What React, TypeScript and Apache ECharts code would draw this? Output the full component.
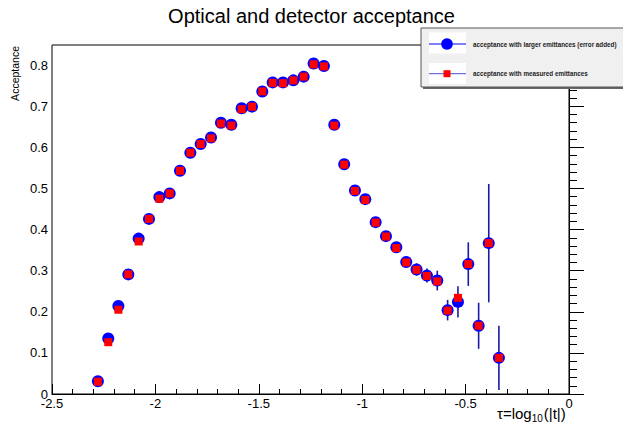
import React, { useEffect, useRef } from "react";
import * as echarts from "echarts";

const titleText = "Optical and detector acceptance";
const yTitle = "Acceptance";
const legendLabels = [
  "acceptance with larger emittances (error added)",
  "acceptance with measured emittances",
];

const tau = [
  -2.278, -2.228, -2.179, -2.131, -2.081, -2.031, -1.981, -1.931, -1.881, -1.831,
  -1.781, -1.731, -1.683, -1.633, -1.583, -1.533, -1.483, -1.433, -1.383, -1.333,
  -1.283, -1.235, -1.185, -1.135, -1.087, -1.035, -0.985, -0.935, -0.885, -0.835,
  -0.787, -0.737, -0.687, -0.637, -0.587, -0.537, -0.487, -0.437, -0.388, -0.339,
];
const accLarge = [
  0.031, 0.135, 0.214, 0.291, 0.378, 0.426, 0.479, 0.488, 0.543, 0.587,
  0.608, 0.624, 0.66, 0.655, 0.695, 0.699, 0.736, 0.758, 0.758, 0.763,
  0.772, 0.804, 0.798, 0.655, 0.559, 0.495, 0.474, 0.418, 0.384, 0.357,
  0.321, 0.303, 0.288, 0.276, 0.204, 0.224, 0.316, 0.166, 0.367, 0.088,
];
const errLarge = [
  0.004, 0.004, 0.004, 0.004, 0.004, 0.004, 0.004, 0.004, 0.004, 0.004,
  0.004, 0.004, 0.004, 0.004, 0.004, 0.004, 0.004, 0.004, 0.004, 0.004,
  0.004, 0.004, 0.004, 0.004, 0.005, 0.005, 0.006, 0.006, 0.007, 0.008,
  0.013, 0.015, 0.017, 0.024, 0.025, 0.038, 0.053, 0.056, 0.144, 0.078,
];
const accMeasured = [
  0.03, 0.126, 0.205, 0.291, 0.371, 0.426, 0.475, 0.488, 0.543, 0.587,
  0.608, 0.622, 0.658, 0.653, 0.693, 0.699, 0.736, 0.757, 0.756, 0.763,
  0.772, 0.802, 0.797, 0.653, 0.558, 0.494, 0.472, 0.417, 0.383, 0.355,
  0.32, 0.302, 0.287, 0.274, 0.203, 0.234, 0.316, 0.166, 0.367, 0.088,
];

const FONT = "'Liberation Sans', Arial, Helvetica, sans-serif";

export default function App() {
  const ref = useRef<HTMLDivElement>(null);
  useEffect(() => {
    if (!ref.current) return;
    const chart = echarts.init(ref.current, undefined, { renderer: "svg" });
    const blueData = tau.map((x, i) => [x, accLarge[i]]);
    const redData = tau.map((x, i) => [x, accMeasured[i]]);
    const errData = tau.map((x, i) => [x, accLarge[i], errLarge[i]]);
    const LZ = 100;
    const option: any = {
      animation: false,
      backgroundColor: "#ffffff",
      textStyle: { fontFamily: FONT },
      grid: {
        left: 52,
        right: 54,
        top: 45,
        bottom: 32,
        show: true,
        borderColor: "#000",
        borderWidth: 1,
        backgroundColor: "transparent",
      },
      xAxis: {
        type: "value",
        min: -2.5,
        max: 0,
        interval: 0.5,
        axisLine: { show: true, lineStyle: { color: "#000", width: 1 } },
        axisTick: { show: true, inside: true, length: 10, lineStyle: { color: "#000" } },
        minorTick: { show: true, splitNumber: 5, length: 5, lineStyle: { color: "#000" } },
        splitLine: { show: false },
        axisLabel: {
          color: "#000",
          fontSize: 13,
          fontFamily: FONT,
          margin: 3,
          formatter: (v: number) => String(Math.round(v * 10) / 10),
        },
      },
      yAxis: {
        type: "value",
        min: 0,
        max: 0.849,
        interval: 0.1,
        axisLine: { show: true, lineStyle: { color: "#000", width: 1 } },
        axisTick: { show: true, inside: true, length: 15, lineStyle: { color: "#000" } },
        minorTick: { show: true, splitNumber: 5, length: 8, lineStyle: { color: "#000" } },
        splitLine: { show: false },
        axisLabel: {
          color: "#000",
          fontSize: 13,
          fontFamily: FONT,
          margin: 4,
          showMaxLabel: false,
          formatter: (v: number) => {
            const r = Math.round(v * 10) / 10;
            if (Math.abs(r - v) > 1e-6) return "";
            return String(r);
          },
        },
      },
      title: {
        text: titleText,
        left: "center",
        top: 1,
        textStyle: { fontFamily: FONT, fontSize: 20, fontWeight: "normal", color: "#000" },
      },
      series: [
        {
          type: "custom",
          name: "errors",
          z: 1,
          data: errData,
          renderItem: (params: any, api: any) => {
            const x = api.value(0);
            const y = api.value(1);
            const e = api.value(2);
            const p1 = api.coord([x, y - e]);
            const p2 = api.coord([x, y + e]);
            return {
              type: "line",
              shape: { x1: p1[0], y1: p1[1], x2: p2[0], y2: p2[1] },
              style: { stroke: "#1a1aa6", lineWidth: 1.6 },
            };
          },
        },
        {
          type: "scatter",
          name: legendLabels[0],
          z: 2,
          data: blueData,
          symbol: "circle",
          symbolSize: 12,
          itemStyle: { color: "#0000ff", opacity: 1 },
        },
        {
          type: "scatter",
          name: legendLabels[1],
          z: 3,
          data: redData,
          symbol: "rect",
          symbolSize: 8,
          itemStyle: { color: "#ff0000", opacity: 1 },
        },
      ],
      graphic: [
        {
          type: "text",
          x: 15,
          y: 46,
          rotation: Math.PI / 2,
          style: {
            text: yTitle,
            fontFamily: FONT,
            fontSize: 10.5,
            fill: "#000",
            align: "right",
            verticalAlign: "middle",
          },
        },
        {
          type: "text",
          x: 497,
          y: 413,
          style: {
            text: "{m|τ=log}{s|10}{m|(|t|)}",
            align: "left",
            verticalAlign: "middle",
            rich: {
              m: { fontFamily: FONT, fontSize: 15, fill: "#000" },
              s: { fontFamily: FONT, fontSize: 10, fill: "#000", padding: [10, 1, 0, 0] },
            },
          },
        },
        {
          type: "rect",
          z: LZ,
          shape: { x: 423, y: 30, width: 210, height: 59 },
          style: { fill: "#666" },
        },
        {
          type: "rect",
          z: LZ,
          shape: { x: 421, y: 28, width: 210, height: 59 },
          style: { fill: "#f0f0f0", stroke: "#555", lineWidth: 1 },
        },
        {
          type: "rect",
          z: LZ,
          shape: { x: 429, y: 32.5, width: 37, height: 21 },
          style: { fill: "#fff" },
        },
        {
          type: "rect",
          z: LZ,
          shape: { x: 429, y: 63, width: 37, height: 21 },
          style: { fill: "#fff" },
        },
        {
          type: "line",
          z: LZ,
          shape: { x1: 429, y1: 44, x2: 466, y2: 44 },
          style: { stroke: "#0000ee", lineWidth: 1.2 },
        },
        {
          type: "circle",
          z: LZ,
          shape: { cx: 447, cy: 44, r: 5.8 },
          style: { fill: "#0000ff" },
        },
        {
          type: "line",
          z: LZ,
          shape: { x1: 429, y1: 73.7, x2: 466, y2: 73.7 },
          style: { stroke: "#7272d6", lineWidth: 1.2 },
        },
        {
          type: "rect",
          z: LZ,
          shape: { x: 443.5, y: 70.2, width: 7, height: 7 },
          style: { fill: "#ff0000" },
        },
        {
          type: "text",
          z: LZ,
          x: 473,
          y: 44,
          style: {
            text: legendLabels[0],
            fontFamily: FONT,
            fontSize: 6.3,
            fontWeight: "bold",
            fill: "#222",
            verticalAlign: "middle",
          },
        },
        {
          type: "text",
          z: LZ,
          x: 473,
          y: 73.7,
          style: {
            text: legendLabels[1],
            fontFamily: FONT,
            fontSize: 6.3,
            fontWeight: "bold",
            fill: "#222",
            verticalAlign: "middle",
          },
        },
      ],
    };
    chart.setOption(option);
    return () => chart.dispose();
  }, []);
  return (
    <div
      ref={ref}
      style={{ position: "absolute", left: 0, top: 0, width: 623, height: 426 }}
    />
  );
}
